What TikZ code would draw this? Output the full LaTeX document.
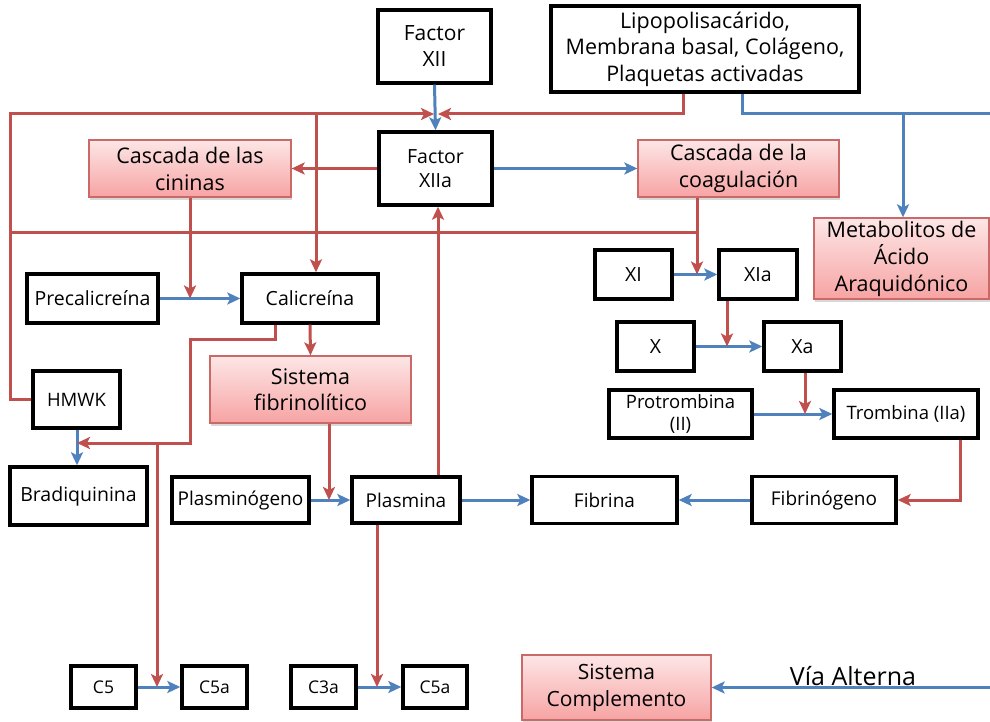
\documentclass[tikz,border=0pt]{standalone}
\usepackage{fontspec}
\setmainfont{Open Sans}
\usetikzlibrary{arrows.meta,shadows}
\definecolor{cred}{HTML}{C0504D}
\definecolor{cblue}{HTML}{4F81BD}
\definecolor{pinkT}{HTML}{FDE6E6}
\definecolor{pinkB}{HTML}{F7A3A3}
\newcommand\myfs[2]{\fontsize{#1}{#2}\selectfont}
\begin{document}
\begin{tikzpicture}[x=1pt,y=-1pt,
  box/.style={draw=black, line width=3.4pt, fill=white, inner sep=0pt, align=center},
  pbox/.style={draw=cred!85, line width=1.3pt, top color=pinkT, bottom color=pinkB, inner sep=0pt, align=center,
    drop shadow={shadow xshift=1pt, shadow yshift=-3pt, opacity=0.3}},
  rl/.style={draw=cred, line width=3pt},
  bl/.style={draw=cblue, line width=3pt},
  arr/.style={-{Stealth[length=13pt,width=12pt,inset=3pt]}},
]
\useasboundingbox (0,0) rectangle (990,722);
\fill[white] (0,0) rectangle (990,722);

% ---------- nodes ----------
\node[box, minimum width=113pt, minimum height=73pt, font=\myfs{21}{26}] (f12) at (434.5,46.5) {Factor\\XII};
\node[box, minimum width=308pt, minimum height=86pt, font=\myfs{21.5}{26.5}] (lipo) at (705,49) {Lipopolisacárido,\\Membrana basal, Colágeno,\\Plaquetas activadas};
\node[box, minimum width=113pt, minimum height=73pt, font=\myfs{19.5}{24}] (f12a) at (435.5,168.5) {Factor\\XIIa};
\node[pbox, minimum width=202pt, minimum height=57pt, font=\myfs{21.5}{27}] (cin) at (190,168.5) {Cascada de las\\cininas};
\node[pbox, minimum width=201pt, minimum height=57pt, font=\myfs{21.5}{27}] (coag) at (738.5,168.5) {Cascada de la\\coagulación};
\node[pbox, minimum width=175pt, minimum height=81pt, font=\myfs{21.5}{27}] (meta) at (901.5,258.5) {Metabolitos de\\Ácido\\Araquidónico};
\node[box, minimum width=131pt, minimum height=49pt, font=\myfs{19.5}{23}] (prec) at (92.5,298.5) {Precalicreína};
\node[box, minimum width=136pt, minimum height=49pt, font=\myfs{19.5}{23}] (cal) at (310,298.5) {Calicreína};
\node[box, minimum width=77pt, minimum height=49pt, font=\myfs{19.5}{23}] (xi) at (633.5,274.5) {XI};
\node[box, minimum width=78pt, minimum height=49pt, font=\myfs{19.5}{23}] (xia) at (758,274.5) {XIa};
\node[box, minimum width=77pt, minimum height=49pt, font=\myfs{19.5}{23}] (xn) at (655.5,346.5) {X};
\node[box, minimum width=77pt, minimum height=49pt, font=\myfs{19.5}{23}] (xa) at (802.5,346.5) {Xa};
\node[box, minimum width=143pt, minimum height=48pt, font=\myfs{18.5}{22}] (prot) at (680.5,414) {Protrombina\\(II)};
\node[box, minimum width=144pt, minimum height=48pt, font=\myfs{18.5}{22}] (trom) at (906,414) {Trombina (IIa)};
\node[box, minimum width=87pt, minimum height=57pt, font=\myfs{18.5}{22}] (hmwk) at (76.5,399.5) {HMWK};
\node[pbox, minimum width=201pt, minimum height=67pt, font=\myfs{21.5}{26}] (sfib) at (310.5,389.5) {Sistema\\fibrinolítico};
\node[box, minimum width=137pt, minimum height=58pt, font=\myfs{19.5}{23}] (brad) at (78.5,496) {Bradiquinina};
\node[box, minimum width=137pt, minimum height=46pt, font=\myfs{19}{23}] (plgn) at (240.5,500) {Plasminógeno};
\node[box, minimum width=108pt, minimum height=46pt, font=\myfs{19}{23}] (plas) at (406,500) {Plasmina};
\node[box, minimum width=145pt, minimum height=47pt, font=\myfs{19}{23}] (fibr) at (604.5,500) {Fibrina};
\node[box, minimum width=144pt, minimum height=47pt, font=\myfs{19}{23}] (fgen) at (824,500) {Fibrinógeno};
\node[box, minimum width=65pt, minimum height=42pt, font=\myfs{17.5}{20}] (c5) at (103.5,687) {C5};
\node[box, minimum width=65pt, minimum height=42pt, font=\myfs{17.5}{20}] (c5a) at (214.5,687) {C5a};
\node[box, minimum width=65pt, minimum height=42pt, font=\myfs{17.5}{20}] (c3a) at (323.5,687) {C3a};
\node[box, minimum width=64pt, minimum height=42pt, font=\myfs{17.5}{20}] (c5b) at (435,687) {C5a};
\node[pbox, minimum width=189pt, minimum height=65pt, font=\myfs{21}{27}] (scomp) at (616.5,687.5) {Sistema\\Complemento};
\node[inner sep=0pt, font=\myfs{25}{28}] (via) at (853,676) {Vía Alterna};

% ---------- coordinates ----------
\coordinate (lt) at (10,114);
\coordinate (j12l) at (434,114);
\coordinate (j12r) at (438,114);
\coordinate (lipoR) at (683,114);
\coordinate (b316) at (316,114);
\coordinate (l232) at (10,232);
\coordinate (c232) at (697,232);
\coordinate (xiJ) at (697,274.5);
\coordinate (lipoB) at (742,114);
\coordinate (b903) at (903,114);
\coordinate (rEdge) at (991,114);
\coordinate (cinJ) at (190,298.5);
\coordinate (calL) at (275,339);
\coordinate (k1) at (190,339);
\coordinate (k2) at (190,443);
\coordinate (k3) at (157,443);
\coordinate (hbJ) at (77,443);
\coordinate (c5J) at (157,687);
\coordinate (plJ) at (329,500);
\coordinate (px) at (438,300);
\coordinate (c3J) at (377,687);
\coordinate (tJ) at (960,500);
\coordinate (xaJ) at (727,346.5);
\coordinate (prJ) at (805,414);
\coordinate (viaR) at (991,687.5);

% ---------- blue connectors ----------
\draw[bl,arr] (f12.south) -- (f12a.north);
\draw[bl,arr] (f12a.east) -- (coag.west);
\draw[bl] (lipo.south -| lipoB) -- (lipoB) -- (rEdge);
\draw[bl,arr] (b903) -- (b903 |- meta.north);
\draw[bl,arr] (prec.east) -- (cal.west);
\draw[bl,arr] (hmwk.south -| hbJ) -- (brad.north -| hbJ);
\draw[bl,arr] (plgn.east) -- (plas.west);
\draw[bl,arr] (plas.east) -- (fibr.west);
\draw[bl,arr] (fgen.west) -- (fibr.east);
\draw[bl,arr] (xi.east) -- (xia.west);
\draw[bl,arr] (xn.east) -- (xa.west);
\draw[bl,arr] (prot.east) -- (trom.west);
\draw[bl,arr] (c5.east) -- (c5a.west);
\draw[bl,arr] (c3a.east) -- (c5b.west);
\draw[bl,arr] (viaR) -- (scomp.east);

% ---------- red connectors ----------
\draw[rl,arr] (hmwk.west) -| (lt) -- (j12l);
\draw[rl,arr] (lipo.south -| lipoR) -- (lipoR) -- (j12r);
\draw[rl,arr] (b316) -- (b316 |- cal.north);
\draw[rl] (l232) -- (c232);
\draw[rl,arr] (coag.south -| xiJ) -- (xiJ);
\draw[rl,arr] (f12a.west) -- (cin.east);
\draw[rl,arr] (cin.south) -- (cinJ);
\draw[rl,arr] (cal.south) -- (sfib.north);
\draw[rl,arr] (cal.south -| calL) -- (calL) -- (k1) -- (k2) -- (hbJ);
\draw[rl,arr] (k3) -- (c5J);
\draw[rl,arr] (sfib.south -| plJ) -- (plJ);
\draw[rl,arr] (plas.north -| px) -- (f12a.south -| px);
\draw[rl,arr] (plas.south -| c3J) -- (c3J);
\draw[rl,arr] (trom.south -| tJ) -- (tJ) -- (fgen.east);
\draw[rl,arr] (xia.south -| xaJ) -- (xaJ);
\draw[rl,arr] (xa.south -| prJ) -- (prJ);
\end{tikzpicture}
\end{document}
